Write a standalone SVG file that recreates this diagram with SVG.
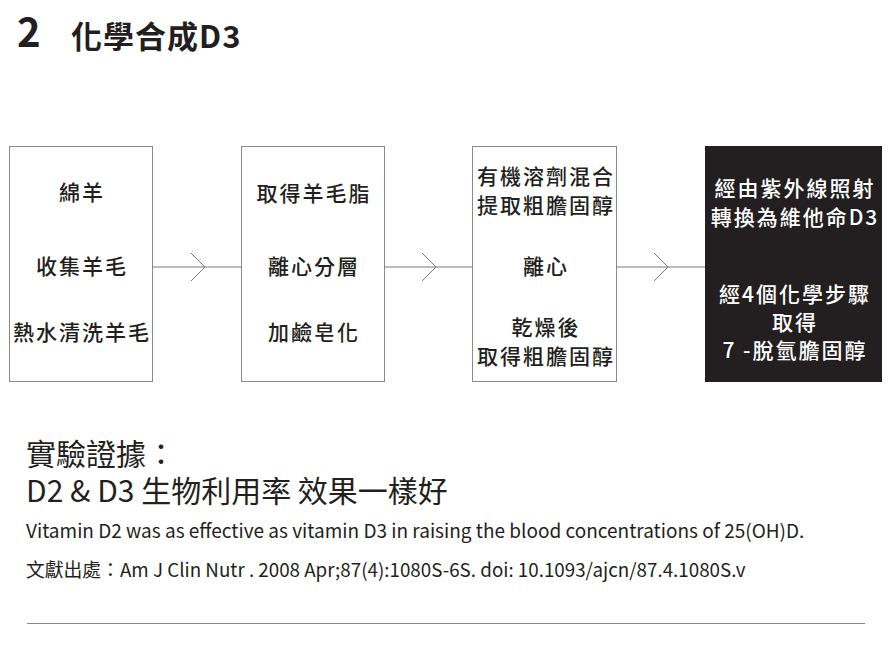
<svg xmlns="http://www.w3.org/2000/svg" width="892" height="668" viewBox="0 0 892 668">
<style>
text{font-family:"Noto Sans CJK TC","Noto Sans",sans-serif;fill:#231f20}
.box{fill:#fff;stroke:#8a8a8a;stroke-width:1}
.dark{fill:#231f20;stroke:none}
.bt{font-size:21px;font-weight:500;text-anchor:middle;letter-spacing:2px}
.wt{fill:#fff}
.conn{stroke:#777;stroke-width:1;fill:none}
.h{font-size:30px;font-weight:400}
</style>
<rect width="892" height="668" fill="#fff"/>
<g id="title">
<text x="17" y="47" font-size="40" font-weight="700">2</text>
<text x="71" y="48" font-size="31" font-weight="700" letter-spacing="1">化學合成D3</text>
</g>
<g id="connectors">
<path class="conn" d="M152 267H241M191 253L205 267L191 281"/>
<path class="conn" d="M384 267H472M422 253L436 267L422 281"/>
<path class="conn" d="M616 267H705M654 253L668 267L654 281"/>
</g>
<g id="node1">
<rect class="box" x="9.5" y="146.5" width="143" height="235"/>
<text class="bt" x="82" y="200">綿羊</text>
<text class="bt" x="82" y="274">收集羊毛</text>
<text class="bt" x="82" y="340">熱水清洗羊毛</text>
</g>
<g id="node2">
<rect class="box" x="241.5" y="146.5" width="143" height="235"/>
<text class="bt" x="314" y="201">取得羊毛脂</text>
<text class="bt" x="314" y="274">離心分層</text>
<text class="bt" x="314" y="340">加鹼皂化</text>
</g>
<g id="node3">
<rect class="box" x="472.5" y="146.5" width="144" height="235"/>
<text class="bt" x="546" y="184">有機溶劑混合</text>
<text class="bt" x="546" y="213">提取粗膽固醇</text>
<text class="bt" x="546" y="274">離心</text>
<text class="bt" x="546" y="335">乾燥後</text>
<text class="bt" x="546" y="364">取得粗膽固醇</text>
</g>
<g id="node4">
<rect class="dark" x="705" y="146" width="177" height="236"/>
<text class="bt wt" x="795" y="196">經由紫外線照射</text>
<text class="bt wt" x="795" y="225">轉換為維他命D3</text>
<text class="bt wt" x="795" y="302">經4個化學步驟</text>
<text class="bt wt" x="795" y="330">取得</text>
<text class="bt wt" x="795" y="358">7 -脫氫膽固醇</text>
</g>
<g id="notes">
<text class="h" x="26" y="465">實驗證據：</text>
<text class="h" x="26" y="502">D2 &amp; D3 生物利用率 效果一樣好</text>
<text x="26" y="538" font-size="19">Vitamin D2 was as effective as vitamin D3 in raising the blood concentrations of 25(OH)D.</text>
<text x="26" y="577" font-size="18.8">文獻出處：Am J Clin Nutr . 2008 Apr;87(4):1080S-6S. doi: 10.1093/ajcn/87.4.1080S.v</text>
<line x1="27" y1="623.5" x2="865" y2="623.5" stroke="#8a8a8a" stroke-width="1"/>
</g>
</svg>
